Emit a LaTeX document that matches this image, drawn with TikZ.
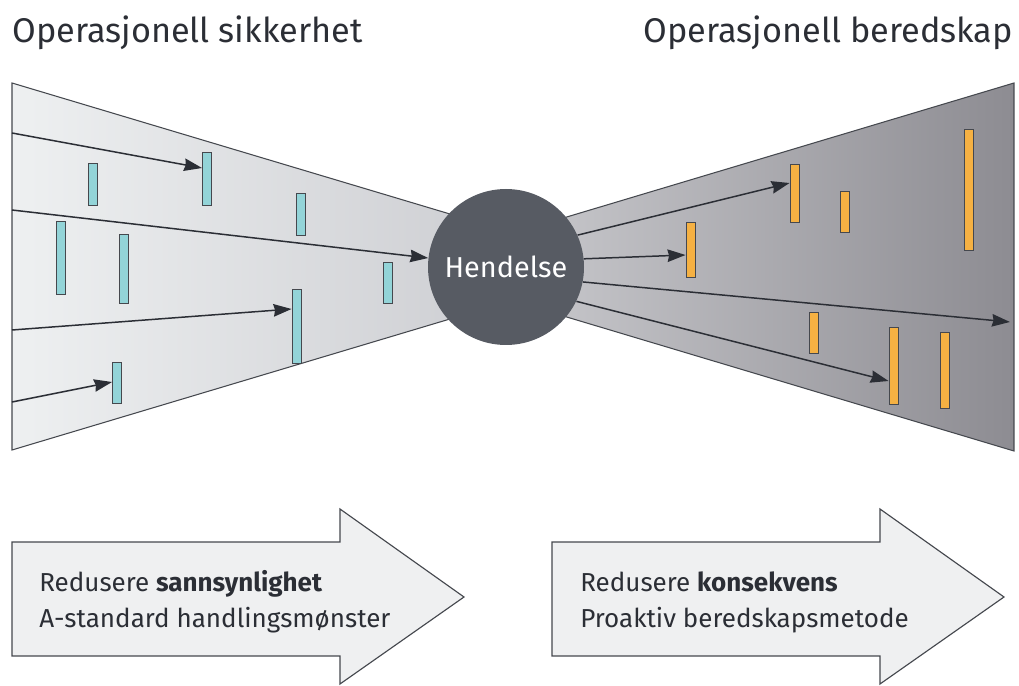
\documentclass[tikz,border=0pt]{standalone}
\usepackage{fontspec}
\setmainfont{Fira Sans}
\usetikzlibrary{arrows.meta}
\definecolor{ink}{HTML}{2B2E35}
\definecolor{edge}{HTML}{45484E}
\definecolor{cyanbar}{HTML}{93D4D8}
\definecolor{orangebar}{HTML}{F5B143}
\definecolor{hub}{HTML}{575B63}
\definecolor{lightL}{HTML}{EEF0F1}
\definecolor{lightR}{HTML}{CFD0D4}
\definecolor{darkL}{HTML}{C6C6CA}
\definecolor{darkR}{HTML}{8D8C92}
\definecolor{panel}{HTML}{EFF0F1}
\tikzset{
  funnel/.style={draw=edge, line width=0.6pt},
  cbar/.style={draw=edge, line width=0.5pt, fill=cyanbar, inner sep=0pt,
    minimum width=0.18cm, minimum height=#1*0.02cm},
  obar/.style={draw=edge, line width=0.5pt, fill=orangebar, inner sep=0pt,
    minimum width=0.18cm, minimum height=#1*0.02cm},
  flow/.style={draw=ink, line width=0.85pt,
    -{Stealth[length=0.36cm,width=0.25cm,inset=0.03cm]}},
  panelarrow/.style={draw=edge, line width=0.65pt, fill=panel},
  title/.style={text=ink, font=\fontsize{19.5}{23}\selectfont, inner sep=0pt},
  body/.style={text=ink, font=\fontsize{14.8}{18}\selectfont, inner sep=0pt, anchor=base west},
}
\begin{document}
\begin{tikzpicture}[x=0.02cm, y=-0.02cm]
\useasboundingbox (0,0) rectangle (1019,686);

% titles
\node[title, anchor=base west] (tl) at (12,43) {Operasjonell sikkerhet};
\node[title, anchor=base east] (tr) at (1013,43) {Operasjonell beredskap};

% the two funnels
\path[funnel, left color=lightL, right color=lightR]
  (12,83) -- (470,220) -- (470,313) -- (12,450) -- cycle;
\path[funnel, left color=darkL, right color=darkR]
  (1014,83) -- (540,225) -- (540,309) -- (1014,451) -- cycle;

% barriers before the event
\node[cbar=42] (la) at (93,184) {};
\node[cbar=53] (lb) at (207,178.5) {};
\node[cbar=42] (lc) at (301,214) {};
\node[cbar=73] (ld) at (60.5,257.5) {};
\node[cbar=69] (le) at (123.5,268.5) {};
\node[cbar=41] (lf) at (387.5,282.5) {};
\node[cbar=74] (lg) at (296.5,326) {};
\node[cbar=41] (lh) at (117,382.5) {};

% barriers after the event
\node[obar=55] (ra) at (690.5,249.5) {};
\node[obar=58] (rb) at (794.5,193) {};
\node[obar=41] (rc) at (844.5,211.5) {};
\node[obar=121] (rd) at (968.5,189.5) {};
\node[obar=41] (re) at (813.5,332.5) {};
\node[obar=77] (rf) at (893.5,365.5) {};
\node[obar=76] (rg) at (944.5,370) {};

% the event
\node[circle, fill=hub, minimum size=156*0.02cm, inner sep=0pt,
  text=white, font=\fontsize{16.4}{19}\selectfont] (hendelse) at (506,267) {Hendelse};

% threat paths on the left
\coordinate (s1) at (12,133);
\coordinate (s2) at (12,210);
\coordinate (s3) at (12,330);
\coordinate (s4) at (12,402);
\coordinate (e1) at (lb.west |- 0,168);
\coordinate (e3) at (lg.west |- 0,309);
\coordinate (e4) at (lh.west |- 0,382);
\draw[flow] (s1) -- (e1);
\draw[flow] (s2) -- (hendelse);
\draw[flow] (s3) -- (e3);
\draw[flow] (s4) -- (e4);

% consequence paths on the right
\coordinate (f2) at (ra.west |- 0,255);
\coordinate (f1) at (rb.west |- 0,183);
\coordinate (f4) at (rf.west |- 0,381);
\coordinate (f3) at (1010,322);
\draw[flow] (hendelse.24) -- (f1);
\draw[flow] (hendelse.6) -- (f2);
\draw[flow] (hendelse.-11) -- (f3);
\draw[flow] (hendelse.-26) -- (f4);

% bottom arrows
\path[panelarrow] (12,542) -- (340,542) -- (340,509) -- (464,597)
  -- (340,684) -- (340,656) -- (12,656) -- cycle;
\path[panelarrow] (552,542) -- (880,542) -- (880,509) -- (1004,597)
  -- (880,684) -- (880,656) -- (552,656) -- cycle;

\node[body] (l1) at (39,591) {Redusere \textbf{sannsynlighet}};
\node[body] (l2) at (39,627) {A-standard handlingsmønster};
\node[body] (r1) at (580,591) {Redusere \textbf{konsekvens}};
\node[body] (r2) at (580,627) {Proaktiv beredskapsmetode};
\end{tikzpicture}
\end{document}
